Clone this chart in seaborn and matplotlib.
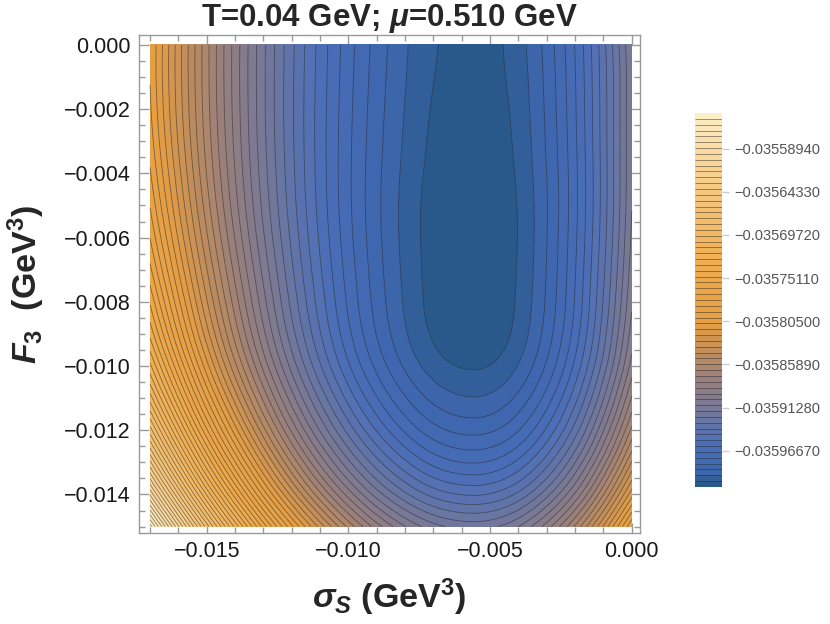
import numpy as np
import matplotlib
matplotlib.use("Agg")
import matplotlib.pyplot as plt
import matplotlib.tri as mtri
from matplotlib.colors import LinearSegmentedColormap, Normalize
from matplotlib.ticker import MultipleLocator, FuncFormatter
import seaborn as sns

# ---- data ----
sigma_s = [-0.017, -0.0155, -0.014, -0.0125, -0.011, -0.0095, -0.008,
           -0.007, -0.0057, -0.0045, -0.003, -0.0015, 0.0]
f3 = [0.0, -0.002, -0.004, -0.006, -0.008, -0.0095, -0.011,
      -0.012, -0.013, -0.014, -0.015]

omega_min = -0.0360120
# Omega - Omega_min in 1e-6 GeV^4 (rows = f3, columns = sigma_s)
d_omega = [
    [211.5, 163.2, 121.1, 85.3, 55.8, 32.6, 15.6, 8.1, 4.4, 7.5, 24.7, 56.5, 102.1],
    [212.9, 163.9, 121.3, 85.0, 55.0, 31.5, 14.3, 6.6, 2.9, 6.1, 23.4, 55.4, 101.3],
    [219.9, 168.7, 124.1, 86.3, 55.1, 30.6, 12.8, 5.0, 1.1, 4.4, 22.0, 54.6, 101.3],
    [233.4, 178.6, 130.9, 90.5, 57.2, 31.2, 12.3, 4.1, 0.0, 3.4, 21.7, 55.3, 103.5],
    [254.3, 194.3, 142.4, 98.3, 62.1, 33.9, 13.6, 4.7, 0.4, 4.0, 23.1, 58.1, 108.4],
    [276.7, 212.1, 155.9, 108.5, 69.6, 39.3, 17.6, 8.2, 3.7, 7.4, 27.3, 63.7, 116.0],
    [310.5, 240.2, 179.4, 128.0, 85.9, 53.1, 29.9, 19.9, 15.0, 19.0, 39.8, 77.8, 132.3],
    [339.4, 264.9, 200.5, 146.1, 101.6, 67.1, 42.6, 32.1, 27.0, 31.2, 52.6, 91.8, 148.1],
    [374.1, 295.1, 226.8, 169.1, 122.1, 85.6, 59.8, 48.8, 43.4, 47.8, 70.0, 110.5, 168.6],
    [415.3, 331.5, 259.0, 197.8, 148.0, 109.4, 82.1, 70.6, 65.0, 69.6, 92.5, 134.4, 194.5],
    [463.5, 374.4, 297.4, 232.5, 179.7, 138.8, 110.0, 97.9, 92.0, 96.7, 120.6, 164.0, 226.3],
]

level_step = 7.3e-6
n_levels = 64
cbar_ticks = [-0.0355894, -0.0356433, -0.0356972, -0.0357511,
              -0.0358050, -0.0358589, -0.0359128, -0.0359667]

# ---- style ----
sns.set_style("ticks")
plt.rcParams['font.family'] = ['Liberation Sans', 'DejaVu Sans']
plt.rcParams['mathtext.fontset'] = 'custom'
plt.rcParams['mathtext.rm'] = 'Liberation Sans:bold'
plt.rcParams['mathtext.it'] = 'Liberation Sans:italic:bold'
plt.rcParams['mathtext.bf'] = 'Liberation Sans:bold'

cmap = LinearSegmentedColormap.from_list("mma", [
    (0.000, "#275889"), (0.015, "#2b5a8d"), (0.025, "#3a64a6"),
    (0.060, "#4168b2"), (0.120, "#4d6fb8"), (0.180, "#6a76a2"),
    (0.240, "#857b8c"), (0.300, "#a08276"), (0.360, "#c08d5c"),
    (0.430, "#e39d45"), (0.550, "#eda848"), (0.680, "#f2b862"),
    (0.800, "#f6c982"), (0.900, "#f9daa2"), (1.000, "#fdf0c8")])

levels = omega_min + level_step * np.arange(n_levels + 1)
norm = Normalize(vmin=levels[0], vmax=levels[-1])

X, Y = np.meshgrid(sigma_s, f3)
Z = omega_min + np.array(d_omega) * 1e-6
tri = mtri.Triangulation(X.ravel(), Y.ravel())
refiner = mtri.UniformTriRefiner(tri)
tri_f, z_f = refiner.refine_field(Z.ravel(), subdiv=4)
z_f = np.clip(z_f, levels[0] + 1e-9, levels[-1] - 1e-9)

fig = plt.figure(figsize=(8.3, 6.24), dpi=100)
ax = fig.add_axes([139 / 830, 1 - 533 / 624, 501 / 830, 498 / 624])

cf = ax.tricontourf(tri_f, z_f, levels=levels, cmap=cmap, norm=norm)
cl = ax.tricontour(tri_f, z_f, levels=levels[1:-1], colors="#262626",
                   linewidths=0.6, alpha=0.55, linestyles="solid")

ax.set_xlim(-0.01739, 0.00029)
ax.set_ylim(-0.0152, 0.00031)

fmt = FuncFormatter(lambda v, p: ("%.3f" % v).replace("-0.000", "0.000").replace("-", "\u2212"))
ax.xaxis.set_major_locator(MultipleLocator(0.005))
ax.xaxis.set_minor_locator(MultipleLocator(0.001))
ax.yaxis.set_major_locator(MultipleLocator(0.002))
ax.yaxis.set_minor_locator(MultipleLocator(0.0005))
ax.xaxis.set_major_formatter(fmt)
ax.yaxis.set_major_formatter(fmt)
ax.tick_params(which="both", direction="in", top=True, right=True,
               color="#9a9a9a", labelcolor="#1a1a1a", labelsize=15.5, width=1)
ax.tick_params(which="major", length=7, pad=6)
ax.tick_params(which="minor", length=4)
for sp in ax.spines.values():
    sp.set_color("#9a9a9a")
    sp.set_linewidth(1)

ax.set_title(r"T=0.04 GeV; $\mu$=0.510 GeV", fontsize=22.5, fontweight="bold", pad=6)
ax.set_xlabel(r"$\sigma_S$ (GeV$^3$)", fontsize=24.5, fontweight="bold", labelpad=10)
ax.set_ylabel(r"$F_3$  (GeV$^3$)", fontsize=24.5, fontweight="bold", labelpad=12)

cax = fig.add_axes([695 / 830, 1 - 487 / 624, 27 / 830, 374 / 624])
cb = fig.colorbar(cf, cax=cax, ticks=cbar_ticks)
cb.add_lines(cl)
cb.outline.set_visible(False)
cb.ax.yaxis.set_major_formatter(FuncFormatter(lambda v, p: ("%.8f" % v).replace("-", "\u2212")))
cb.ax.tick_params(labelsize=10.5, color="#cccccc", labelcolor="#555555",
                  length=5, width=1, pad=4)
cb.ax.minorticks_off()

fig.savefig("out.png", dpi=100)
